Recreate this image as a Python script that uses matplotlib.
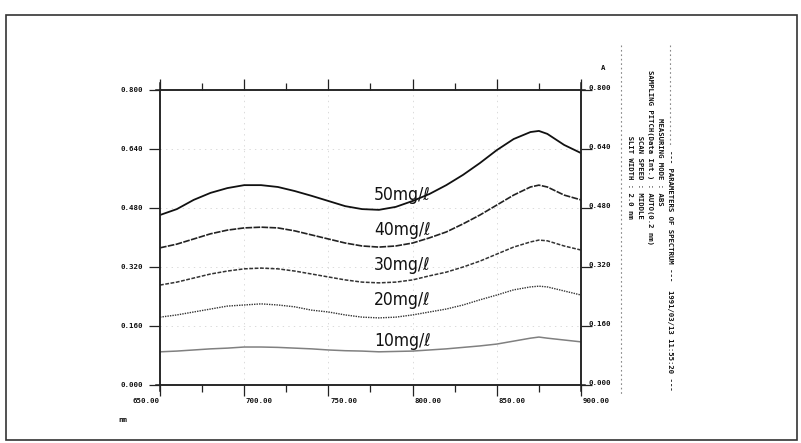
import matplotlib
matplotlib.use('Agg')
import matplotlib.pyplot as plt
import numpy as np

# wavelength (nm) and absorbance
wavelength = [650, 660, 670, 680, 690, 700, 710, 720, 730, 740, 750, 760, 770,
              780, 790, 800, 810, 820, 830, 840, 850, 860, 870, 875, 880, 890, 900]
abs_50 = [0.461, 0.477, 0.502, 0.521, 0.534, 0.542, 0.542, 0.537, 0.526, 0.513, 0.499, 0.485, 0.477,
          0.475, 0.483, 0.499, 0.518, 0.542, 0.570, 0.602, 0.637, 0.667, 0.686, 0.689, 0.681, 0.651, 0.629]
abs_40 = [0.372, 0.382, 0.396, 0.410, 0.420, 0.426, 0.428, 0.426, 0.418, 0.407, 0.396, 0.385, 0.377,
          0.374, 0.377, 0.385, 0.399, 0.415, 0.437, 0.461, 0.488, 0.515, 0.537, 0.542, 0.537, 0.515, 0.502]
abs_30 = [0.271, 0.279, 0.290, 0.301, 0.309, 0.315, 0.317, 0.315, 0.309, 0.301, 0.293, 0.285, 0.279,
          0.277, 0.279, 0.285, 0.296, 0.306, 0.320, 0.336, 0.355, 0.374, 0.388, 0.393, 0.391, 0.377, 0.366]
abs_20 = [0.184, 0.190, 0.198, 0.206, 0.214, 0.217, 0.220, 0.217, 0.212, 0.203, 0.198, 0.190, 0.184,
          0.182, 0.184, 0.190, 0.198, 0.206, 0.217, 0.231, 0.244, 0.258, 0.266, 0.268, 0.266, 0.255, 0.244]
abs_10 = [0.090, 0.092, 0.095, 0.098, 0.100, 0.103, 0.103, 0.102, 0.100, 0.098, 0.095, 0.093, 0.092,
          0.090, 0.091, 0.092, 0.095, 0.098, 0.102, 0.106, 0.111, 0.119, 0.127, 0.130, 0.127, 0.122, 0.117]

labels = ['50mg/ℓ', '40mg/ℓ', '30mg/ℓ', '20mg/ℓ', '10mg/ℓ']
label_y = [0.515, 0.420, 0.325, 0.231, 0.119]

x_ticks = [650, 700, 750, 800, 850, 900]
y_ticks = [0.0, 0.16, 0.32, 0.48, 0.64, 0.8]

params = [
    ('SLIT WIDTH', '2.0 nm'),
    ('SCAN SPEED', 'MIDDLE'),
    ('SAMPLING PITCH(Data Int.)', 'AUTO(0.2 nm)'),
    ('MEASURING MODE', 'ABS'),
]
header = '--- PARAMETERS OF SPECTRUM ---  1991/03/13 11:55:20 ---'

W, H = 801, 443
fig = plt.figure(figsize=(W / 100, H / 100), dpi=100)
fig.patch.set_facecolor('white')

def fx(px):
    return px / W

def fy(py):
    return 1 - py / H

# page frame
fig.add_artist(plt.Rectangle((fx(6), fy(440)), fx(797) - fx(6), fy(15) - fy(440),
                             transform=fig.transFigure, fill=False, ec='#333333', lw=1.2))

ax = fig.add_axes([fx(160), fy(385), fx(581) - fx(160), fy(90) - fy(385)])

styles = [
    dict(color='#111111', lw=1.3, ls='-'),
    dict(color='#222222', lw=1.2, ls=(0, (4, 0.8))),
    dict(color='#333333', lw=1.1, ls=(0, (2.5, 1))),
    dict(color='#333333', lw=1.0, ls=(0, (1, 0.8))),
    dict(color='#808080', lw=1.1, ls='-'),
]
for ys, st in zip([abs_50, abs_40, abs_30, abs_20, abs_10], styles):
    ax.plot(wavelength, ys, **st)

for lab, yv in zip(labels, label_y):
    ax.text(777, yv, lab, fontsize=12.5, ha='left', va='center', color='#111111',
            family='DejaVu Sans', fontstretch='condensed')

ax.set_xlim(650, 900)
ax.set_ylim(0, 0.8)
ax.set_xticks(x_ticks)
ax.set_xticks(np.arange(675, 900, 50), minor=True)
ax.set_yticks(y_ticks)

ax.tick_params(which='both', direction='out', top=True, right=True, color='#222222', width=0.9)
ax.tick_params(which='major', length=8)
ax.tick_params(which='minor', length=5)
ax.tick_params(axis='y', labelleft=False, labelright=False)
ax.tick_params(axis='x', labelbottom=False)

for s in ax.spines.values():
    s.set_color('#222222')
    s.set_linewidth(1.1)

ax.grid(True, which='major', color='#cccccc', ls=(0, (2, 6)), lw=0.5)
ax.set_axisbelow(True)

# spine overhang at corners
for xa in (0, 1):
    ax.plot([xa, xa], [-0.02, 1.025], transform=ax.transAxes, color='#222222', lw=1.1, clip_on=False)
for ya in (0, 1):
    ax.plot([-0.01, 1.01], [ya, ya], transform=ax.transAxes, color='#222222', lw=1.1, clip_on=False)

tick_font = dict(family='DejaVu Sans Mono', fontweight='bold', color='#111111')
for yv in y_ticks:
    ax.text(-0.04, yv, '%.3f' % yv, transform=ax.get_yaxis_transform(), ha='right', va='center',
            fontsize=5.3, **tick_font)
    ax.text(1.018, yv + 0.006, '%.3f' % yv, transform=ax.get_yaxis_transform(), ha='left', va='center',
            fontsize=5.3, **tick_font)
for xv in x_ticks:
    ha = 'right' if xv == 650 else 'left'
    ax.text(xv + (0 if xv == 650 else 1), -0.055, '%.2f' % xv, transform=ax.get_xaxis_transform(),
            ha=ha, va='center', fontsize=5.3, **tick_font)

fig.text(fx(603), fy(68), 'A', ha='center', va='center', fontsize=5.3, **tick_font)
fig.text(fx(123), fy(420), 'nm', ha='center', va='center', fontsize=5.3, **tick_font)

# parameter block on the right
dots = dict(color='#888888', lw=0.8, ls=(0, (1.5, 2.5)))
fig.add_artist(plt.Line2D([fx(621), fx(621)], [fy(45), fy(395)], transform=fig.transFigure, **dots))
fig.add_artist(plt.Line2D([fx(670), fx(670)], [fy(45), fy(146)], transform=fig.transFigure, **dots))

name_w = max(len(n) for n, v in params)
for i, (name, val) in enumerate(params):
    line = name.rjust(name_w) + ' : ' + val
    fig.text(fx(630 + 10 * i), fy(70), line, rotation=270, ha='center', va='top',
             fontsize=5.2, **tick_font)
fig.text(fx(670), fy(150), header, rotation=270, ha='center', va='top', fontsize=5.2, **tick_font)

fig.savefig('out.png', dpi=100, facecolor='white')
